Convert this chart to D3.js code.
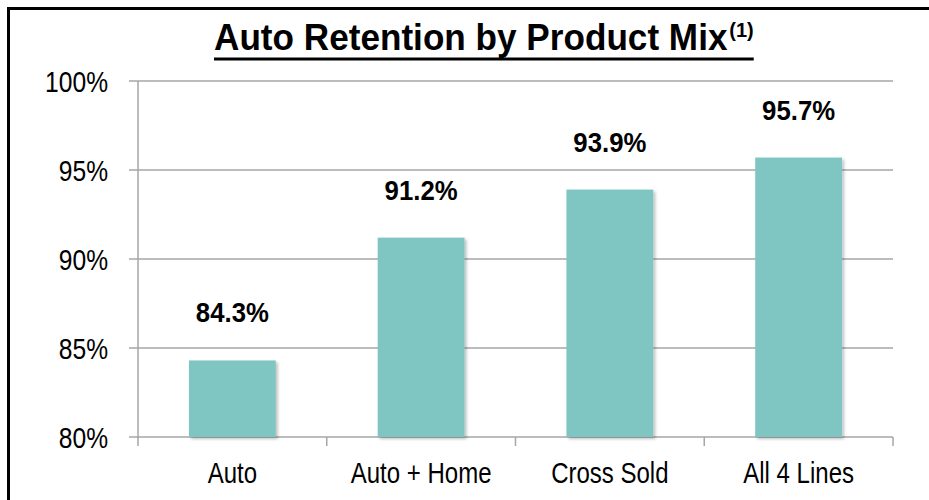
<!DOCTYPE html>
<html>
<head>
<meta charset="utf-8">
<script src="https://cdn.jsdelivr.net/npm/d3@7"></script>
<style>
  body { margin: 0; background: #fff; }
  svg text { font-family: "Liberation Sans Narrow", "Arial Narrow", "Liberation Sans", Arial, sans-serif; }
</style>
</head>
<body>
<div id="chart"></div>
<script>
// data
var categories = ["Auto", "Auto + Home", "Cross Sold", "All 4 Lines"];
var retention = [84.3, 91.2, 93.9, 95.7];
var yTicks = [80, 85, 90, 95, 100];

var W = 929, H = 500;
var margin = {top: 81, right: 36, bottom: 63, left: 138},
    width = W - margin.left - margin.right,
    height = H - margin.top - margin.bottom;

var root = d3.select("#chart").append("svg")
    .attr("width", W)
    .attr("height", H);

// frame (left + top only visible)
root.append("path")
    .attr("d", "M8.5,500 V8.5 H929")
    .attr("fill", "none")
    .attr("stroke", "#000")
    .attr("stroke-width", 3);

// title, squeezed a bit to look like a narrow face
var title = root.append("text")
    .attr("transform", "translate(214,50) scale(0.95,1)")
    .attr("font-weight", "bold")
    .attr("font-size", 37)
    .attr("fill", "#000");
title.append("tspan").text("Auto Retention by Product Mix");
title.append("tspan")
    .attr("font-size", 21)
    .attr("dx", 2)
    .attr("dy", -13)
    .text("(1)");

var tb = title.node().getBBox();
root.append("line")
    .attr("x1", 214).attr("x2", 214 + tb.width * 0.95)
    .attr("y1", 59).attr("y2", 59)
    .attr("stroke", "#000")
    .attr("stroke-width", 3);

var svg = root.append("g")
    .attr("transform", "translate(" + margin.left + "," + margin.top + ")");

var xScale = d3.scaleBand()
    .domain(categories)
    .range([0, width])
    .paddingInner(0.54)
    .paddingOuter(0.27);

var yScale = d3.scaleLinear()
    .domain([80, 100])
    .range([height, 0]);

// grid lines
svg.append("g")
  .selectAll("line")
  .data(yTicks)
  .join("line")
    .attr("x1", -9)
    .attr("x2", width)
    .attr("y1", d => yScale(d))
    .attr("y2", d => yScale(d))
    .attr("stroke", "#a6a6a6")
    .attr("stroke-width", 1.5);

// y axis line
svg.append("line")
    .attr("x1", 0).attr("x2", 0)
    .attr("y1", 0).attr("y2", height + 1)
    .attr("stroke", "#a6a6a6")
    .attr("stroke-width", 1.5);

// y tick labels
svg.append("g")
  .selectAll("text")
  .data(yTicks)
  .join("text")
    .attr("transform", d => "translate(-30," + yScale(d) + ") scale(0.82,1)")
    .attr("dy", "0.36em")
    .attr("text-anchor", "end")
    .attr("font-size", 30)
    .attr("fill", "#000")
    .text(d => d + "%");

// x axis ticks at band boundaries
var step = xScale.step();
svg.append("g")
  .selectAll("line")
  .data(d3.range(categories.length + 1))
  .join("line")
    .attr("x1", i => i * step)
    .attr("x2", i => i * step)
    .attr("y1", height)
    .attr("y2", height + 9)
    .attr("stroke", "#a6a6a6")
    .attr("stroke-width", 1.5);

// shadow filter
var defs = root.append("defs");
var f = defs.append("filter").attr("id", "shadow")
    .attr("x", "-10%").attr("y", "-10%").attr("width", "130%").attr("height", "130%");
f.append("feDropShadow")
    .attr("dx", 2).attr("dy", 2)
    .attr("stdDeviation", 1.5)
    .attr("flood-color", "#000")
    .attr("flood-opacity", 0.25);

// bars
svg.append("g")
  .selectAll("rect")
  .data(retention)
  .join("rect")
    .attr("x", (d, i) => xScale(categories[i]))
    .attr("y", d => yScale(d))
    .attr("width", xScale.bandwidth())
    .attr("height", d => height - yScale(d))
    .attr("fill", "#7fc5c1")
    .attr("filter", "url(#shadow)");

// value labels
svg.append("g")
  .selectAll("text")
  .data(retention)
  .join("text")
    .attr("transform", (d, i) => "translate(" + (xScale(categories[i]) + xScale.bandwidth() / 2) + "," + (yScale(d) - 38) + ") scale(0.92,1)")
    .attr("text-anchor", "middle")
    .attr("font-weight", "bold")
    .attr("font-size", 28)
    .attr("fill", "#000")
    .text(d => d.toFixed(1) + "%");

// category labels
svg.append("g")
  .selectAll("text")
  .data(categories)
  .join("text")
    .attr("transform", d => "translate(" + (xScale(d) + xScale.bandwidth() / 2) + "," + (height + 46) + ") scale(0.8,1)")
    .attr("text-anchor", "middle")
    .attr("font-size", 30)
    .attr("fill", "#000")
    .text(d => d);
</script>
</body>
</html>
